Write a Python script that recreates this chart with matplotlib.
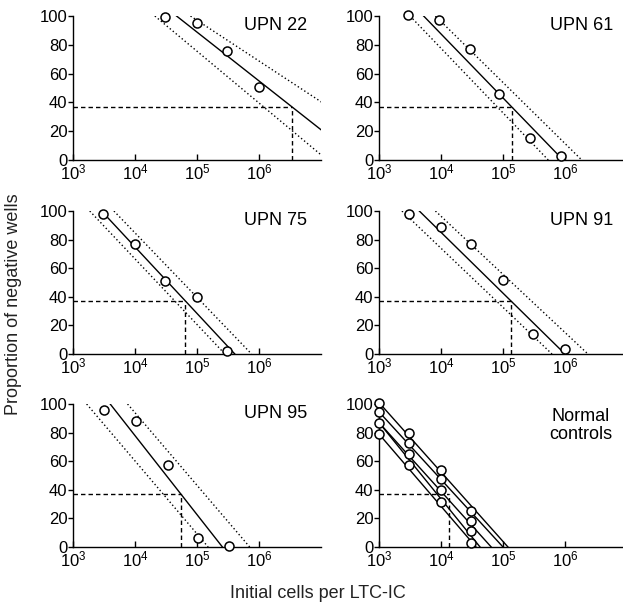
import numpy as np
import matplotlib.pyplot as plt

plt.rcParams['font.family'] = ['Liberation Sans', 'DejaVu Sans']
plt.rcParams['mathtext.fontset'] = 'custom'
plt.rcParams['mathtext.rm'] = 'Liberation Sans'
plt.rcParams['mathtext.it'] = 'Liberation Sans:italic'
plt.rcParams['mathtext.bf'] = 'Liberation Sans:bold'

# patient samples: cell doses per well and % negative wells
upn22_dose = [3e4, 1e5, 3e5, 1e6]
upn22_neg = [99, 95, 76, 51]
upn61_dose = [2.9e3, 9.3e3, 2.9e4, 8.6e4, 2.75e5, 8.7e5]
upn61_neg = [101, 97, 77, 46, 15.5, 3]
upn75_dose = [3e3, 1e4, 3e4, 1e5, 3e5]
upn75_neg = [98, 77, 51, 40, 2.3]
upn91_dose = [3e3, 1e4, 3e4, 1e5, 3e5, 1e6]
upn91_neg = [98, 89, 77, 52, 14, 3.5]
upn95_dose = [3.2e3, 1.05e4, 3.4e4, 1.05e5, 3.3e5]
upn95_neg = [96, 88, 57, 6, 1]

# fitted lines as (log10 dose at 100%, log10 dose at 0%): fit, upper CI, lower CI
upn22_fit = [(4.67, 7.62), (4.895, 8.43), (4.32, 7.1)]
upn61_fit = [(3.72, 5.97), (3.91, 6.27), (3.5, 5.73)]
upn75_fit = [(3.46, 5.61), (3.66, 5.88), (3.27, 5.45)]
upn91_fit = [(3.65, 6.0), (3.91, 6.37), (3.37, 5.79)]
upn95_fit = [(3.6, 5.41), (3.88, 5.85), (3.22, 5.18)]

# normal controls
ctrl_dose = [1e3, 3e3, 1e4, 3e4]
ctrl_neg = [
    [101, 79.4, 53.9, 25.1],
    [94.5, 73, 47.4, 18.5],
    [87, 65.3, 39.6, 11],
    [79, 57.1, 31.6, 2.8],
]
# each control line: % negative at 10^3 cells, log10 dose at 0%
ctrl_lines = [(101, 5.08), (94.5, 5.0), (87, 4.81), (87, 4.63), (79, 4.565)]
ctrl_mean_dose = 1.35e4

LEVEL = 37  # 1/e negative wells

patients = [
    ('UPN 22', upn22_dose, upn22_neg, upn22_fit),
    ('UPN 61', upn61_dose, upn61_neg, upn61_fit),
    ('UPN 75', upn75_dose, upn75_neg, upn75_fit),
    ('UPN 91', upn91_dose, upn91_neg, upn91_fit),
    ('UPN 95', upn95_dose, upn95_neg, upn95_fit),
]

W, H = 623, 607
fig = plt.figure(figsize=(W / 100, H / 100), dpi=100)


def make_axes(x, y, w, h):
    ax = fig.add_axes([x / W, 1 - (y + h) / H, w / W, h / H])
    ax.set_xscale('log')
    ax.set_xlim(1e3, 1e7)
    ax.set_ylim(0, 100)
    ax.spines['top'].set_visible(False)
    ax.spines['right'].set_visible(False)
    ax.spines['left'].set_linewidth(1.0)
    ax.spines['bottom'].set_linewidth(1.0)
    ax.set_xticks([1e3, 1e4, 1e5, 1e6])
    ax.set_xticklabels([r'$\mathregular{10^{%d}}$' % e for e in (3, 4, 5, 6)])
    ax.xaxis.set_minor_locator(plt.NullLocator())
    ax.set_yticks([0, 20, 40, 60, 80, 100])
    ax.tick_params(axis='x', direction='in', length=4, width=1.0, pad=1.5,
                   labelsize=12)
    ax.tick_params(axis='y', direction='out', length=3.5, width=1.0, pad=0.5,
                   labelsize=12)
    return ax


cols = [73, 379]
rows = [(16, 144), (211, 143), (404, 143)]
axes = []
for r in rows:
    for c in cols:
        axes.append(make_axes(c, r[0], 248, r[1]))

dotted = (0, (1, 1.8))
dashed = (0, (3.2, 2.2))

for ax, (name, dose, neg, fits) in zip(axes, patients):
    fit, upper, lower = fits
    for (a, b), ls in [(upper, dotted), (lower, dotted), (fit, '-')]:
        ax.plot([10 ** a, 10 ** b], [100, 0], color='black', lw=1.0, ls=ls)
    cross = 10 ** (fit[1] - LEVEL / 100 * (fit[1] - fit[0]))
    ax.plot([1e3, cross], [LEVEL, LEVEL], color='black', lw=1.0, ls=dashed)
    ax.plot([cross, cross], [0, LEVEL], color='black', lw=1.0, ls=dashed)
    ax.plot(dose, neg, 'o', ms=6.5, mfc='white', mec='black', mew=1.1,
            clip_on=False, zorder=5)
    ax.text(0.945, 0.995, name, transform=ax.transAxes, ha='right', va='top',
            fontsize=13)

ax = axes[5]
for y0, b in ctrl_lines:
    ax.plot([1e3, 10 ** b], [y0, 0], color='black', lw=1.0, clip_on=False)
for row in ctrl_neg:
    ax.plot(ctrl_dose, row, 'o', ms=6.5, mfc='white', mec='black', mew=1.1,
            clip_on=False, zorder=5)
ax.plot([1e3, ctrl_mean_dose], [LEVEL, LEVEL], color='black', lw=1.0, ls=dashed)
ax.plot([ctrl_mean_dose, ctrl_mean_dose], [0, LEVEL], color='black', lw=1.0,
        ls=dashed)
ax.text(0.94, 0.97, 'Normal\ncontrols', transform=ax.transAxes, ha='right',
        va='top', multialignment='center', fontsize=13, linespacing=1.05)

fig.text(14 / W, 1 - 304 / H, 'Proportion of negative wells', rotation=90,
         ha='center', va='center', fontsize=13, color='#222222')
fig.text(318 / W, 1 - 594 / H, 'Initial cells per LTC-IC', ha='center',
         va='center', fontsize=13, color='#222222')

fig.savefig('out.png', dpi=100)
